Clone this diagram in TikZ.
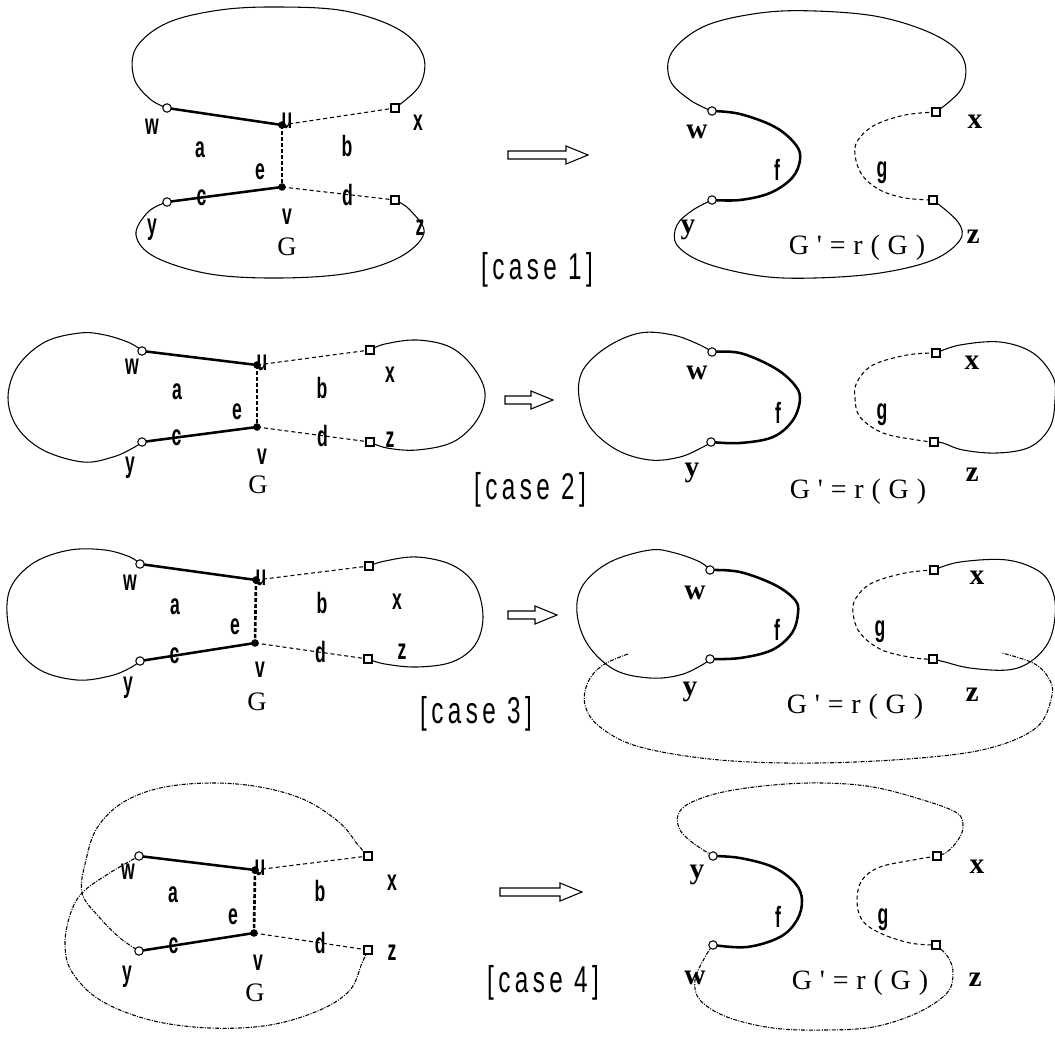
\documentclass[tikz,border=0pt]{standalone}
\usepackage{fontspec}
\newfontfamily\narrowfont[FakeStretch=0.6]{Liberation Sans}
\newfontfamily\casefont[FakeStretch=0.65,LetterSpace=12]{Liberation Sans}
\newfontfamily\gfont{Liberation Serif}
\newfontfamily\gpfont[LetterSpace=28]{Liberation Serif}

\tikzset{every picture/.style={line width=0.8pt}}
\tikzset{
  lbl/.style={inner sep=0.75pt, font=\narrowfont\bfseries\fontsize{22}{24}\selectfont},
  rlbl/.style={inner sep=0.75pt, font=\gfont\bfseries\fontsize{22}{24}\selectfont},
  glbl/.style={inner sep=0.75pt, font=\gfont\fontsize{20}{22}\selectfont},
  gplbl/.style={inner sep=0.75pt, font=\gpfont\fontsize{21}{23}\selectfont},
  caselbl/.style={inner sep=0.75pt, font=\casefont\fontsize{28}{30}\selectfont},
  opendot/.style={draw, circle, fill=white, inner sep=0pt, minimum size=6.3pt},
  fulldot/.style={draw, circle, fill=black, inner sep=0pt, minimum size=4.8pt},
  sqdot/.style={draw, rectangle, fill=white, inner sep=0pt, minimum size=6pt},
  boldedge/.style={line width=1.9pt},
  keyedge/.style={line width=2pt, dash pattern=on 3pt off 1.5pt},
  thinedge/.style={dash pattern=on 3pt off 2.2pt},
  dotloop/.style={dash pattern=on 3pt off 1pt on 0.75pt off 1pt},
  lobe/.style={smooth, tension=0.6},
}

\begin{document}
\begin{tikzpicture}[x=0.75pt,y=0.75pt,yscale=-1]
\useasboundingbox (0,0) rectangle (1055,1038);

%%%%%%%%%%%%%%%% case 1 %%%%%%%%%%%%%%%%
\coordinate (w1) at (167,108);
\coordinate (u1) at (282,125);
\coordinate (x1) at (395,108);
\coordinate (y1) at (167,202);
\coordinate (v1) at (282,187);
\coordinate (z1) at (395,200);
%Curve: upper lobe
\draw plot[lobe] coordinates {(w1) (150,99) (134,78) (136,48) (167,23) (220,10) (280,7) (345,11) (398,29) (423,55) (420,85) (x1)};
%Curve: lower lobe
\draw plot[lobe] coordinates {(y1) (148,212) (136,235) (155,257) (210,274) (280,278) (350,273) (400,257) (424,233) (410,210) (z1)};
%Straight Lines
\draw[boldedge] (w1) -- (u1);
\draw[keyedge] (u1) -- (v1);
\draw[boldedge] (y1) -- node[lbl,pos=0.3] (c1) {c} (v1);
\draw[thinedge] (u1) -- (x1);
\draw[thinedge] (v1) -- node[lbl,pos=0.58] (d1) {d} (z1);
\node[opendot] (mw1) at (w1) {};
\node[opendot] (my1) at (y1) {};
\node[fulldot] (mu1) at (u1) {};
\node[fulldot] (mv1) at (v1) {};
\node[sqdot] (mx1) at (x1) {};
\node[sqdot] (mz1) at (z1) {};
% Text Node
\node[lbl] (lw1) at (152,127) {w};
\node[lbl] (lu1) at (287,121) {u};
\node[lbl] (lx1) at (418,123) {x};
\node[lbl] (la1) at (200,150) {a};
\node[lbl] (lb1) at (347,146) {b};
\node[lbl] (le1) at (260,172) {e};
\node[lbl] (lv1) at (287,217) {v};
\node[lbl] (ly1) at (152,230) {y};
\node[lbl] (lz1) at (420,228) {z};
\node[glbl] (lg1) at (287,247) {G};

%Shape: Arrow
\coordinate (a1) at (508,155);
\draw (a1) ++(0,-4) -- ++(58,0) -- ++(0,-5) -- ++(22,9) -- ++(-22,9) -- ++(0,-5) -- ++(-58,0) -- cycle;
\node[caselbl] (case1) at (537,270) {[case 1]};

\coordinate (rw1) at (712,111);
\coordinate (ry1) at (712,200);
\coordinate (rx1) at (936,112);
\coordinate (rz1) at (933,200);
%Curve: upper lobe
\draw plot[lobe] coordinates {(rw1) (690,100) (670,80) (672,52) (705,26) (760,13) (815,11) (880,17) (935,35) (963,58) (962,88) (rx1)};
%Curve: f
\draw[boldedge] plot[lobe] coordinates {(rw1) (740,114) (775,127) (796,145) (800,160) (792,178) (770,193) (740,200) (ry1)};
%Curve: lower lobe
\draw plot[lobe] coordinates {(ry1) (693,210) (677,225) (677,245) (705,263) (760,276) (815,278) (880,273) (933,260) (960,240) (958,222) (rz1)};
%Curve: g
\draw[thinedge] plot[lobe] coordinates {(rx1) (905,115) (875,125) (858,140) (855,155) (862,175) (880,190) (905,198) (rz1)};
\node[opendot] (mrw1) at (rw1) {};
\node[opendot] (mry1) at (ry1) {};
\node[sqdot] (mrx1) at (rx1) {};
\node[sqdot] (mrz1) at (rz1) {};
% Text Node
\node[rlbl] (lrw1) at (697,132) {w};
\node[lbl] (lf1) at (777,170) {f};
\node[rlbl] (lry1) at (688,230) {y};
\node[rlbl] (lrx1) at (975,122) {x};
\node[lbl] (lgg1) at (882,173) {g};
\node[rlbl] (lrz1) at (973,237) {z};
\node[gplbl] (lgp1) at (857,248) {G'=r(G)};

%%%%%%%%%%%%%%%% case 2 %%%%%%%%%%%%%%%%
\coordinate (w2) at (142,351);
\coordinate (u2) at (257,365);
\coordinate (x2) at (370,350);
\coordinate (y2) at (142,442);
\coordinate (v2) at (257,427);
\coordinate (z2) at (370,442);
%Curve: left lobe
\draw plot[lobe] coordinates {(w2) (130,343) (105,335) (80,333) (45,342) (18,366) (8,397) (17,427) (43,450) (83,462) (113,457) (133,448) (y2)};
%Curve: right lobe
\draw plot[lobe] coordinates {(x2) (385,344) (417,340) (450,347) (473,367) (485,393) (477,420) (453,442) (417,450) (387,448) (z2)};
%Straight Lines
\draw[boldedge] (w2) -- (u2);
\draw[keyedge] (u2) -- (v2);
\draw[boldedge] (y2) -- node[lbl,pos=0.3] (c2) {c} (v2);
\draw[thinedge] (u2) -- (x2);
\draw[thinedge] (v2) -- node[lbl,pos=0.58] (d2) {d} (z2);
\node[opendot] (mw2) at (w2) {};
\node[opendot] (my2) at (y2) {};
\node[fulldot] (mu2) at (u2) {};
\node[fulldot] (mv2) at (v2) {};
\node[sqdot] (mx2) at (x2) {};
\node[sqdot] (mz2) at (z2) {};
% Text Node
\node[lbl] (lw2) at (132,367) {w};
\node[lbl] (lu2) at (262,363) {u};
\node[lbl] (lx2) at (390,375) {x};
\node[lbl] (la2) at (177,392) {a};
\node[lbl] (lb2) at (322,388) {b};
\node[lbl] (le2) at (237,412) {e};
\node[lbl] (lv2) at (262,457) {v};
\node[lbl] (ly2) at (130,468) {y};
\node[lbl] (lz2) at (390,440) {z};
\node[glbl] (lg2) at (258,485) {G};

%Shape: Arrow
\coordinate (a2) at (505,400);
\draw (a2) ++(0,-4) -- ++(26,0) -- ++(0,-5) -- ++(22,9) -- ++(-22,9) -- ++(0,-5) -- ++(-26,0) -- cycle;
\node[caselbl] (case2) at (530,490) {[case 2]};

\coordinate (rw2) at (712,352);
\coordinate (ry2) at (711,442);
\coordinate (rx2) at (936,353);
\coordinate (rz2) at (934,442);
%Curve: left lobe
\draw plot[lobe] coordinates {(rw2) (700,345) (673,335) (640,333) (607,347) (583,370) (579,397) (590,427) (617,450) (650,460) (680,457) (703,447) (ry2)};
%Curve: f
\draw[boldedge] plot[lobe] coordinates {(rw2) (740,353) (773,367) (793,383) (800,398) (793,420) (773,437) (740,443) (ry2)};
%Curve: g
\draw[thinedge] plot[lobe] coordinates {(rx2) (907,355) (873,365) (857,382) (855,398) (860,417) (883,433) (917,440) (rz2)};
%Curve: right lobe
\draw plot[lobe] coordinates {(rx2) (960,345) (1000,342) (1033,353) (1053,377) (1055,400) (1050,427) (1030,447) (997,453) (963,450) (943,443) (rz2)};
\node[opendot] (mrw2) at (rw2) {};
\node[opendot] (mry2) at (ry2) {};
\node[sqdot] (mrx2) at (rx2) {};
\node[sqdot] (mrz2) at (rz2) {};
% Text Node
\node[rlbl] (lrw2) at (697,373) {w};
\node[lbl] (lf2) at (778,413) {f};
\node[rlbl] (lry2) at (692,473) {y};
\node[rlbl] (lrx2) at (972,363) {x};
\node[lbl] (lgg2) at (882,415) {g};
\node[rlbl] (lrz2) at (972,475) {z};
\node[gplbl] (lgp2) at (858,492) {G'=r(G)};

%%%%%%%%%%%%%%%% case 3 %%%%%%%%%%%%%%%%
\coordinate (w3) at (140,564);
\coordinate (u3) at (256,580);
\coordinate (x3) at (369,566);
\coordinate (y3) at (140,661);
\coordinate (v3) at (255,643);
\coordinate (z3) at (368,659);
%Curve: left lobe
\draw plot[lobe] coordinates {(w3) (130,557) (105,550) (70,550) (35,562) (12,585) (7,613) (15,645) (40,670) (77,680) (110,676) (130,668) (y3)};
%Curve: right lobe
\draw plot[lobe] coordinates {(x3) (385,561) (417,557) (452,565) (475,585) (483,617) (475,645) (452,662) (417,667) (385,664) (z3)};
%Straight Lines
\draw[boldedge] (w3) -- (u3);
\draw[keyedge] (u3) -- (v3);
\draw[boldedge] (y3) -- node[lbl,pos=0.3] (c3) {c} (v3);
\draw[thinedge] (u3) -- (x3);
\draw[thinedge] (v3) -- node[lbl,pos=0.58] (d3) {d} (z3);
\node[opendot] (mw3) at (w3) {};
\node[opendot] (my3) at (y3) {};
\node[fulldot] (mu3) at (u3) {};
\node[fulldot] (mv3) at (v3) {};
\node[sqdot] (mx3) at (x3) {};
\node[sqdot] (mz3) at (z3) {};
% Text Node
\node[lbl] (lw3) at (130,583) {w};
\node[lbl] (lu3) at (261,578) {u};
\node[lbl] (lx3) at (397,602) {x};
\node[lbl] (la3) at (175,607) {a};
\node[lbl] (lb3) at (322,603) {b};
\node[lbl] (le3) at (235,627) {e};
\node[lbl] (lv3) at (260,670) {v};
\node[lbl] (ly3) at (128,688) {y};
\node[lbl] (lz3) at (402,652) {z};
\node[glbl] (lg3) at (257,702) {G};

%Shape: Arrow
\coordinate (a3) at (508,615);
\draw (a3) ++(0,-4) -- ++(27,0) -- ++(0,-5) -- ++(22,9) -- ++(-22,9) -- ++(0,-5) -- ++(-27,0) -- cycle;
\node[caselbl] (case3) at (476,714) {[case 3]};

\coordinate (rw3) at (710,570);
\coordinate (ry3) at (710,659);
\coordinate (rx3) at (934,570);
\coordinate (rz3) at (933,659);
\coordinate (p3) at (628,654);
\coordinate (q3) at (1002,653);
%Curve: left lobe
\draw plot[lobe] coordinates {(rw3) (700,562) (675,553) (650,550) (610,562) (583,585) (577,613) (588,645) (615,670) (650,678) (680,675) (702,665) (ry3)};
%Curve: f
\draw[boldedge] plot[lobe] coordinates {(rw3) (740,572) (775,585) (795,600) (798,613) (792,633) (772,650) (740,658) (ry3)};
%Curve: g
\draw[thinedge] plot[lobe] coordinates {(rx3) (905,573) (872,583) (856,598) (853,613) (860,633) (882,650) (915,658) (rz3)};
%Curve: right lobe
\draw plot[lobe] coordinates {(rx3) (960,562) (1007,560) (1040,572) (1053,592) (1055,617) (1048,643) (1030,662) (1007,670) (970,668) (945,662) (rz3)};
%Curve: outer loop
\draw[dotloop] plot[lobe] coordinates {(p3) (603,665) (588,682) (585,705) (600,727) (640,747) (720,760) (817,763) (920,758) (990,748) (1037,727) (1052,695) (1048,677) (1033,663) (q3)};
\node[opendot] (mrw3) at (rw3) {};
\node[opendot] (mry3) at (ry3) {};
\node[sqdot] (mrx3) at (rx3) {};
\node[sqdot] (mrz3) at (rz3) {};
% Text Node
\node[rlbl] (lrw3) at (695,593) {w};
\node[lbl] (lf3) at (777,630) {f};
\node[rlbl] (lry3) at (690,692) {y};
\node[rlbl] (lrx3) at (977,578) {x};
\node[lbl] (lgg3) at (880,632) {g};
\node[rlbl] (lrz3) at (972,695) {z};
\node[gplbl] (lgp3) at (855,707) {G'=r(G)};

%%%%%%%%%%%%%%%% case 4 %%%%%%%%%%%%%%%%
\coordinate (w4) at (139,856);
\coordinate (u4) at (255,870);
\coordinate (x4) at (368,856);
\coordinate (y4) at (139,951);
\coordinate (v4) at (254,933);
\coordinate (z4) at (368,950);
\coordinate (k4) at (82,893);
%Curve: upper loop
\draw[dotloop] plot[lobe] coordinates {(x4) (358,845) (340,823) (305,800) (260,787) (210,783) (160,788) (122,803) (97,828) (86,860) (k4) (100,918) (120,938) (y4)};
%Curve: lower loop
\draw[dotloop] plot[lobe] coordinates {(z4) (362,963) (350,990) (320,1010) (270,1025) (210,1028) (150,1020) (100,1000) (72,972) (65,945) (70,915) (k4) (108,874) (w4)};
%Straight Lines
\draw[boldedge] (w4) -- (u4);
\draw[keyedge] (u4) -- (v4);
\draw[boldedge] (y4) -- node[lbl,pos=0.3] (c4) {c} (v4);
\draw[thinedge] (u4) -- (x4);
\draw[thinedge] (v4) -- node[lbl,pos=0.58] (d4) {d} (z4);
\node[opendot] (mw4) at (w4) {};
\node[opendot] (my4) at (y4) {};
\node[fulldot] (mu4) at (u4) {};
\node[fulldot] (mv4) at (v4) {};
\node[sqdot] (mx4) at (x4) {};
\node[sqdot] (mz4) at (z4) {};
% Text Node
\node[lbl] (lw4) at (128,872) {w};
\node[lbl] (lu4) at (260,868) {u};
\node[lbl] (lx4) at (392,883) {x};
\node[lbl] (la4) at (173,895) {a};
\node[lbl] (lb4) at (320,891) {b};
\node[lbl] (le4) at (233,917) {e};
\node[lbl] (lv4) at (258,963) {v};
\node[lbl] (ly4) at (127,977) {y};
\node[lbl] (lz4) at (392,953) {z};
\node[glbl] (lg4) at (255,993) {G};

%Shape: Arrow
\coordinate (a4) at (500,892);
\draw (a4) ++(0,-4) -- ++(60,0) -- ++(0,-5) -- ++(22,9) -- ++(-22,9) -- ++(0,-5) -- ++(-60,0) -- cycle;
\node[caselbl] (case4) at (543,983) {[case 4]};

\coordinate (ry4) at (713,856);
\coordinate (rw4) at (713,945);
\coordinate (rx4) at (937,856);
\coordinate (rz4) at (936,945);
%Curve: upper loop
\draw[dotloop] plot[lobe] coordinates {(ry4) (693,843) (680,830) (678,815) (690,803) (723,792) (773,785) (823,783) (873,787) (923,800) (957,813) (963,827) (958,840) (947,852) (rx4)};
%Curve: f
\draw[boldedge] plot[lobe] coordinates {(ry4) (740,858) (773,867) (795,883) (802,900) (797,920) (780,937) (747,947) (rw4)};
%Curve: g
\draw[thinedge] plot[lobe] coordinates {(rx4) (913,860) (880,867) (862,880) (857,900) (862,920) (880,933) (910,943) (rz4)};
%Curve: lower loop
\draw[dotloop] plot[lobe] coordinates {(rw4) (705,957) (695,980) (700,1000) (727,1017) (773,1028) (823,1030) (873,1027) (917,1013) (947,993) (953,973) (948,957) (rz4)};
\node[opendot] (mry4) at (ry4) {};
\node[opendot] (mrw4) at (rw4) {};
\node[sqdot] (mrx4) at (rx4) {};
\node[sqdot] (mrz4) at (rz4) {};
% Text Node
\node[rlbl] (lry4) at (697,875) {y};
\node[lbl] (lf4) at (778,917) {f};
\node[rlbl] (lrw4) at (695,978) {w};
\node[rlbl] (lrx4) at (977,867) {x};
\node[lbl] (lgg4) at (883,920) {g};
\node[rlbl] (lrz4) at (975,980) {z};
\node[gplbl] (lgp4) at (860,983) {G'=r(G)};

\end{tikzpicture}
\end{document}
